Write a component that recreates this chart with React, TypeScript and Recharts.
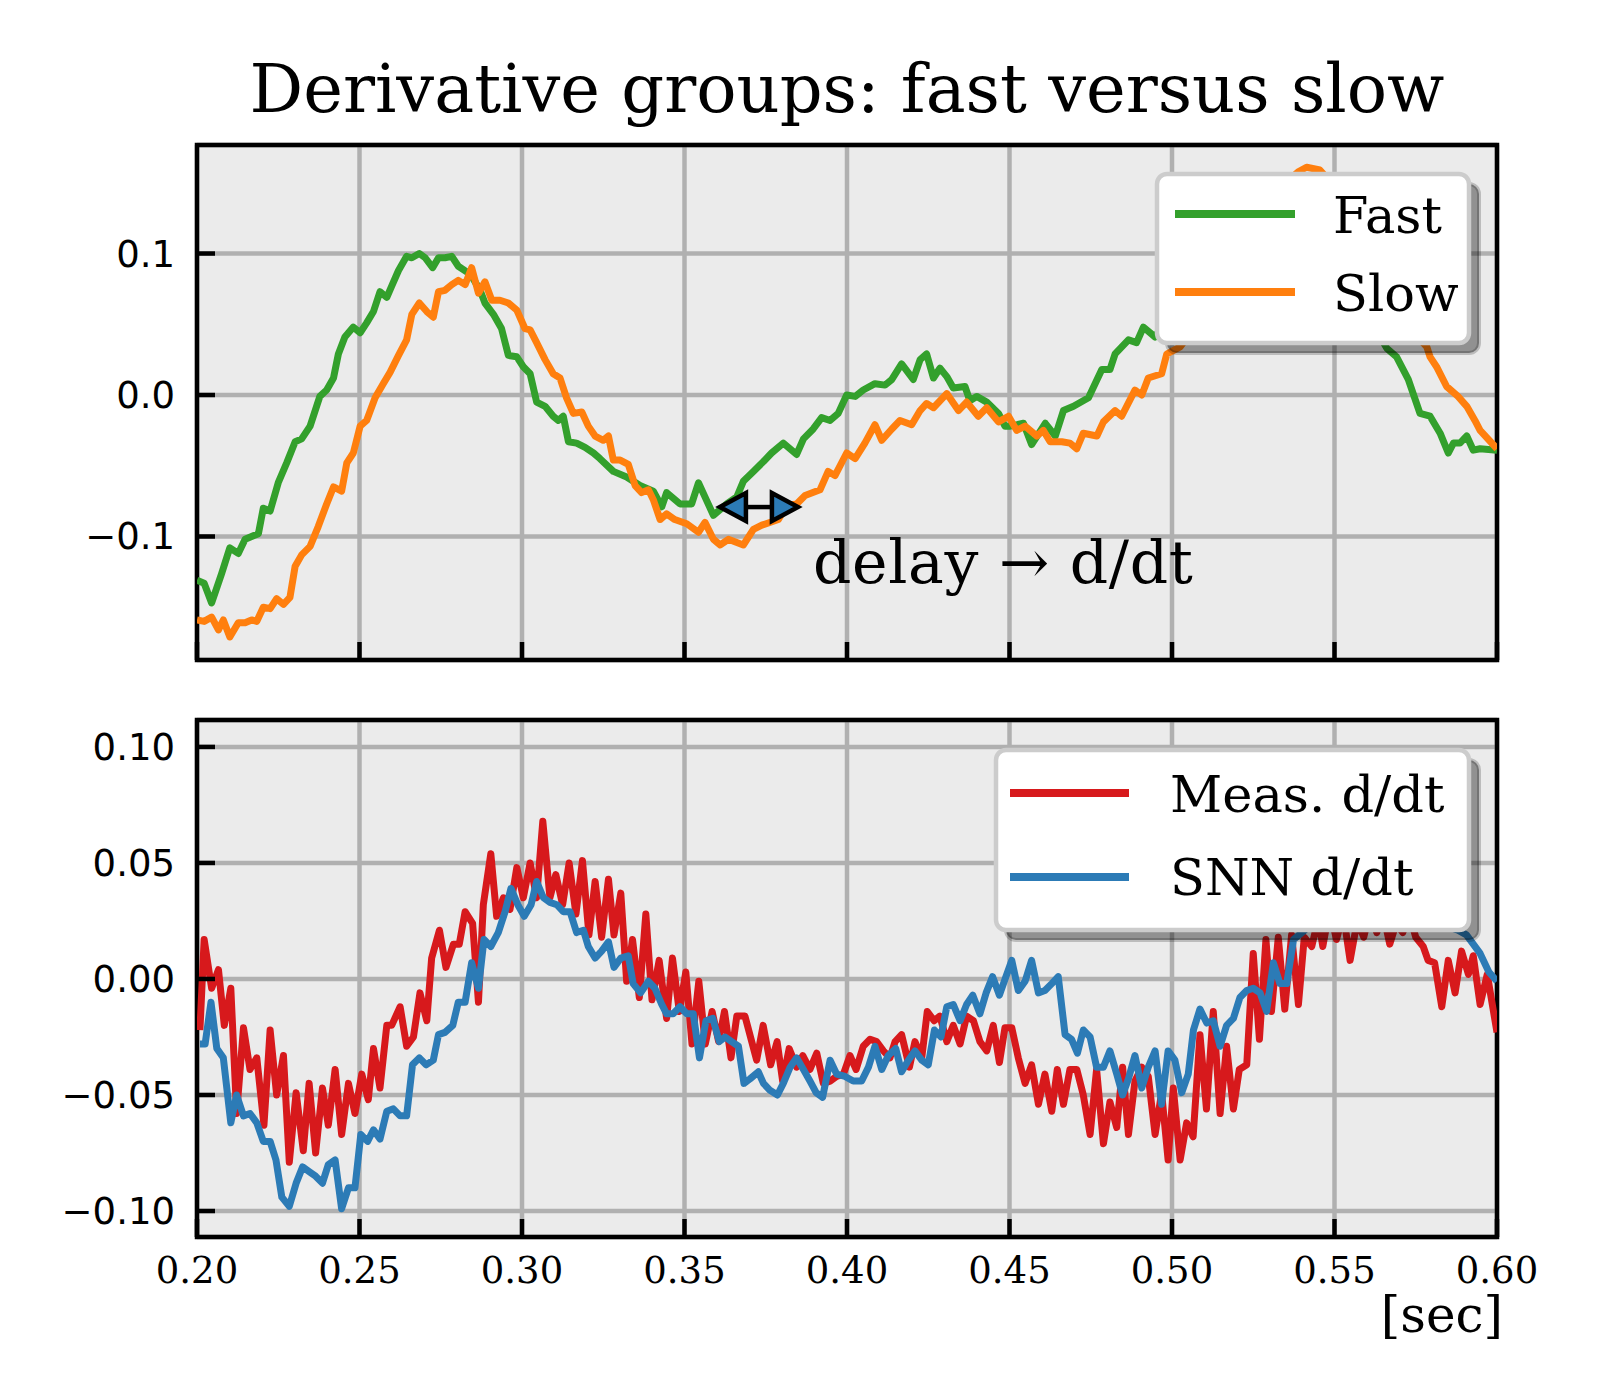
import React from 'react';
import {
  LineChart, Line, XAxis, YAxis, CartesianGrid, ReferenceArea,
  ReferenceLine, ReferenceDot, Legend,
} from 'recharts';

// ---------- text ----------
const TITLE = 'Derivative groups: fast versus slow';
const X_UNIT = '[sec]';
const ANNOTATION = 'delay \u2192 d/dt';

// ---------- axes ----------
const X_TICKS = [0.2, 0.25, 0.3, 0.35, 0.4, 0.45, 0.5, 0.55, 0.6];
const X_DOMAIN = [0.2, 0.6];
const TOP_Y_TICKS = [-0.1, 0, 0.1];
const TOP_Y_DOMAIN = [-0.1873, 0.1767];
const BOT_Y_TICKS = [-0.1, -0.05, 0, 0.05, 0.1];
const BOT_Y_DOMAIN = [-0.1112, 0.1116];

// ---------- annotation ----------
const ARROW_T = [0.3609, 0.3849];
const ARROW_V = -0.0792;
const ANNOT_T = 0.3895;
const ANNOT_V = -0.1329;

// ---------- series (time [s], value) ----------
const FAST: [number, number][] = [
  [0.2, -0.131], [0.2022, -0.133], [0.2045, -0.147], [0.2076, -0.126], [0.2101, -0.108], [0.2127, -0.112],
  [0.2148, -0.102], [0.2168, -0.1], [0.2189, -0.098], [0.2204, -0.08], [0.2225, -0.082], [0.225, -0.062],
  [0.2276, -0.048], [0.2302, -0.033], [0.2322, -0.031], [0.2348, -0.022], [0.2378, -0.001], [0.2399, 0.0035],
  [0.242, 0.012], [0.2435, 0.029], [0.2455, 0.041], [0.2481, 0.048], [0.2502, 0.044], [0.2522, 0.051],
  [0.2543, 0.059], [0.2563, 0.073], [0.2584, 0.069], [0.2599, 0.077], [0.262, 0.088], [0.2645, 0.098],
  [0.2661, 0.097], [0.2684, 0.1], [0.2702, 0.097], [0.2725, 0.09], [0.2743, 0.097], [0.2763, 0.097],
  [0.2784, 0.098], [0.2804, 0.091], [0.283, 0.087], [0.2845, 0.084], [0.2871, 0.074], [0.2886, 0.065],
  [0.2912, 0.057], [0.2937, 0.047], [0.2958, 0.028], [0.2984, 0.027], [0.3004, 0.02], [0.3025, 0.015],
  [0.3045, -0.005], [0.3071, -0.008], [0.3096, -0.015], [0.3112, -0.018], [0.3127, -0.015], [0.3143, -0.033],
  [0.3168, -0.034], [0.3194, -0.037], [0.322, -0.041], [0.324, -0.045], [0.3281, -0.054], [0.3322, -0.058],
  [0.3363, -0.064], [0.3404, -0.068], [0.343, -0.079], [0.3445, -0.069], [0.3486, -0.077], [0.3522, -0.077],
  [0.3543, -0.062], [0.3563, -0.072], [0.3589, -0.085], [0.363, -0.077], [0.3661, -0.072], [0.3681, -0.061],
  [0.3712, -0.054], [0.3743, -0.047], [0.3768, -0.041], [0.3804, -0.034], [0.3845, -0.042], [0.3866, -0.031],
  [0.3896, -0.024], [0.3922, -0.016], [0.3948, -0.018], [0.3973, -0.013], [0.3999, 0], [0.4025, -0.001],
  [0.405, 0.0035], [0.4086, 0.008], [0.4117, 0.007], [0.4138, 0.011], [0.4168, 0.022], [0.4204, 0.011],
  [0.4225, 0.025], [0.4245, 0.029], [0.4266, 0.012], [0.4286, 0.019], [0.4307, 0.013], [0.4327, 0.005],
  [0.4363, 0.006], [0.4378, -0.004], [0.4399, -0.001], [0.443, -0.005], [0.4466, -0.013], [0.4486, -0.022],
  [0.4502, -0.022], [0.4543, -0.02], [0.4568, -0.035], [0.461, -0.02], [0.4641, -0.029], [0.4666, -0.011],
  [0.4697, -0.008], [0.4743, -0.002], [0.4784, 0.018], [0.4809, 0.018], [0.4825, 0.029], [0.4866, 0.039],
  [0.4891, 0.037], [0.4912, 0.048], [0.4948, 0.041], [0.498, 0.052], [0.503, 0.07], [0.508, 0.088],
  [0.513, 0.105], [0.518, 0.12], [0.523, 0.134], [0.528, 0.143], [0.532, 0.148], [0.536, 0.145],
  [0.54, 0.135], [0.545, 0.118], [0.55, 0.1], [0.555, 0.078], [0.56, 0.058], [0.563, 0.045],
  [0.5661, 0.033], [0.5691, 0.027], [0.5727, 0.011], [0.5763, -0.013], [0.5794, -0.015], [0.5825, -0.027],
  [0.585, -0.041], [0.5866, -0.034], [0.5886, -0.034], [0.5907, -0.029], [0.5927, -0.039], [0.5948, -0.038],
  [0.6, -0.039],
];

const SLOW: [number, number][] = [
  [0.2, -0.159], [0.2022, -0.16], [0.2045, -0.157], [0.2066, -0.166], [0.2081, -0.159], [0.2101, -0.171],
  [0.2127, -0.161], [0.2148, -0.161], [0.2168, -0.159], [0.2184, -0.16], [0.2204, -0.15], [0.2225, -0.151],
  [0.2245, -0.144], [0.2266, -0.148], [0.2286, -0.143], [0.2302, -0.121], [0.2322, -0.113], [0.2348, -0.107],
  [0.2373, -0.093], [0.2399, -0.077], [0.242, -0.065], [0.2445, -0.068], [0.2461, -0.048], [0.2481, -0.041],
  [0.2502, -0.022], [0.2522, -0.018], [0.2548, -0.002], [0.2573, 0.008], [0.2594, 0.016], [0.262, 0.028],
  [0.2645, 0.039], [0.2661, 0.057], [0.2684, 0.065], [0.2707, 0.059], [0.2727, 0.055], [0.2743, 0.073],
  [0.2763, 0.074], [0.2784, 0.078], [0.2804, 0.081], [0.2825, 0.078], [0.2845, 0.09], [0.2866, 0.072],
  [0.2886, 0.08], [0.2907, 0.067], [0.2932, 0.067], [0.2958, 0.065], [0.2984, 0.06], [0.3009, 0.047],
  [0.3025, 0.046], [0.3045, 0.037], [0.3071, 0.025], [0.3096, 0.015], [0.3117, 0.012], [0.3137, -0.002],
  [0.3158, -0.013], [0.3184, -0.012], [0.3204, -0.022], [0.3225, -0.029], [0.325, -0.032], [0.3266, -0.029],
  [0.3281, -0.046], [0.3302, -0.046], [0.3327, -0.049], [0.3348, -0.064], [0.3368, -0.069], [0.3389, -0.067],
  [0.3404, -0.074], [0.3425, -0.088], [0.3445, -0.084], [0.347, -0.088], [0.3507, -0.091], [0.3543, -0.097],
  [0.3563, -0.09], [0.3589, -0.102], [0.361, -0.106], [0.3635, -0.102], [0.3681, -0.106], [0.3712, -0.095],
  [0.3738, -0.092], [0.3789, -0.088], [0.3815, -0.078], [0.3845, -0.077], [0.3871, -0.071], [0.3917, -0.067],
  [0.3942, -0.054], [0.3963, -0.057], [0.3999, -0.041], [0.4025, -0.045], [0.4055, -0.034], [0.4086, -0.021],
  [0.4107, -0.032], [0.4138, -0.024], [0.4163, -0.018], [0.4199, -0.021], [0.4225, -0.011], [0.4245, -0.006],
  [0.4266, -0.009], [0.4307, 0.001], [0.4343, -0.011], [0.4368, -0.005], [0.4404, -0.015], [0.443, -0.009],
  [0.4466, -0.019], [0.4497, -0.015], [0.4522, -0.025], [0.4548, -0.022], [0.4584, -0.029], [0.4604, -0.025],
  [0.4625, -0.033], [0.4661, -0.033], [0.4686, -0.034], [0.4707, -0.038], [0.4727, -0.027], [0.4769, -0.029],
  [0.4789, -0.019], [0.4825, -0.011], [0.4845, -0.015], [0.4886, 0.0035], [0.4907, 0], [0.4927, 0.012],
  [0.4968, 0.015], [0.4984, 0.029], [0.5025, 0.034], [0.506, 0.045], [0.51, 0.06], [0.515, 0.08],
  [0.52, 0.1], [0.525, 0.118], [0.53, 0.135], [0.535, 0.15], [0.539, 0.158], [0.5414, 0.161],
  [0.5455, 0.159], [0.549, 0.15], [0.553, 0.132], [0.557, 0.112], [0.561, 0.092], [0.565, 0.075],
  [0.57, 0.058], [0.574, 0.045], [0.5784, 0.034], [0.5794, 0.027], [0.5814, 0.02], [0.5845, 0.006],
  [0.588, -0.001], [0.5907, -0.008], [0.5932, -0.018], [0.5948, -0.025], [0.6, -0.038],
];

const MEAS: [number, number][] = [
  [0.2009, -0.022], [0.2022, 0.017], [0.2045, -0.004], [0.2066, 0.004], [0.2084, -0.02], [0.2104, -0.004],
  [0.2122, -0.058], [0.2143, -0.021], [0.2163, -0.039], [0.2184, -0.034], [0.2206, -0.063], [0.2225, -0.022],
  [0.2245, -0.05], [0.2266, -0.033], [0.2284, -0.079], [0.2305, -0.049], [0.2327, -0.074], [0.2345, -0.045],
  [0.2365, -0.075], [0.2386, -0.047], [0.2404, -0.063], [0.2425, -0.039], [0.2445, -0.067], [0.2466, -0.045],
  [0.2486, -0.058], [0.2507, -0.041], [0.2527, -0.052], [0.2543, -0.03], [0.2563, -0.047], [0.2584, -0.02],
  [0.2599, -0.02], [0.2625, -0.012], [0.2645, -0.029], [0.2666, -0.025], [0.2686, -0.006], [0.2707, -0.018],
  [0.2722, 0.009], [0.2746, 0.021], [0.2766, 0.005], [0.2789, 0.015], [0.2807, 0.015], [0.2825, 0.029],
  [0.2848, 0.024], [0.2866, -0.01], [0.2881, 0.032], [0.2904, 0.054], [0.2922, 0.027], [0.2943, 0.035],
  [0.2963, 0.03], [0.2984, 0.048], [0.3004, 0.035], [0.3025, 0.05], [0.3045, 0.035], [0.3064, 0.068],
  [0.3086, 0.035], [0.3104, 0.045], [0.3125, 0.032], [0.3145, 0.05], [0.3166, 0.028], [0.3186, 0.051],
  [0.3206, 0.019], [0.3225, 0.042], [0.3245, 0.018], [0.3266, 0.043], [0.3283, 0.019], [0.3304, 0.037],
  [0.3322, -0.001], [0.334, 0.017], [0.3361, -0.008], [0.3381, 0.028], [0.34, -0.009], [0.3422, 0.008],
  [0.3445, -0.017], [0.3463, 0.009], [0.3484, -0.014], [0.3504, 0.003], [0.3523, -0.028], [0.3544, -0.001],
  [0.3564, -0.028], [0.3585, -0.014], [0.3605, -0.027], [0.3623, -0.014], [0.3643, -0.034], [0.3661, -0.016],
  [0.3686, -0.016], [0.3722, -0.035], [0.3742, -0.02], [0.3765, -0.037], [0.3785, -0.027], [0.3802, -0.044],
  [0.3822, -0.03], [0.3845, -0.038], [0.3864, -0.033], [0.3886, -0.039], [0.3907, -0.032], [0.3927, -0.045],
  [0.3948, -0.044], [0.3968, -0.042], [0.3989, -0.041], [0.4009, -0.033], [0.4028, -0.039], [0.405, -0.029],
  [0.4071, -0.026], [0.4091, -0.027], [0.4112, -0.031], [0.4132, -0.034], [0.4148, -0.027], [0.4168, -0.024],
  [0.4192, -0.038], [0.4209, -0.027], [0.423, -0.034], [0.4247, -0.014], [0.4268, -0.018], [0.4286, -0.016],
  [0.4307, -0.027], [0.4327, -0.02], [0.4348, -0.028], [0.4368, -0.016], [0.4389, -0.018], [0.4409, -0.027],
  [0.443, -0.031], [0.445, -0.02], [0.4469, -0.036], [0.4486, -0.021], [0.4507, -0.021], [0.4527, -0.034],
  [0.4548, -0.045], [0.4568, -0.037], [0.4589, -0.054], [0.4609, -0.041], [0.463, -0.057], [0.4647, -0.039],
  [0.4666, -0.054], [0.4686, -0.039], [0.4707, -0.039], [0.4727, -0.05], [0.4748, -0.067], [0.4768, -0.039],
  [0.4789, -0.071], [0.4809, -0.053], [0.483, -0.064], [0.4848, -0.038], [0.4866, -0.067], [0.4886, -0.044],
  [0.4907, -0.038], [0.4927, -0.042], [0.4948, -0.067], [0.4968, -0.049], [0.4988, -0.078], [0.5004, -0.047],
  [0.5025, -0.078], [0.5045, -0.062], [0.5065, -0.068], [0.5086, -0.024], [0.5106, -0.056], [0.5127, -0.014],
  [0.5148, -0.058], [0.5168, -0.029], [0.5189, -0.056], [0.5207, -0.039], [0.523, -0.037], [0.525, 0.011],
  [0.5269, -0.026], [0.5289, 0.017], [0.5306, -0.014], [0.5327, 0.018], [0.5347, -0.013], [0.5368, 0.019],
  [0.5389, -0.011], [0.5407, 0.018], [0.543, 0.014], [0.545, 0.026], [0.5464, 0.014], [0.5485, 0.03],
  [0.5506, 0.017], [0.5527, 0.028], [0.5548, 0.008], [0.557, 0.025], [0.559, 0.018], [0.561, 0.03],
  [0.563, 0.02], [0.565, 0.028], [0.567, 0.015], [0.569, 0.024], [0.571, 0.02], [0.573, 0.028],
  [0.575, 0.018], [0.5773, 0.014], [0.5788, 0.008], [0.5808, 0.007], [0.583, -0.012], [0.585, 0.008],
  [0.5871, -0.006], [0.5891, 0.012], [0.5912, 0.002], [0.5927, 0.01], [0.5948, -0.011], [0.597, 0.002],
  [0.6, -0.023],
];

const SNN: [number, number][] = [
  [0.2009, -0.028], [0.2025, -0.028], [0.2043, -0.01], [0.2061, -0.03], [0.2081, -0.034], [0.2104, -0.062],
  [0.2122, -0.05], [0.2143, -0.059], [0.2163, -0.058], [0.2184, -0.062], [0.2204, -0.07], [0.2225, -0.07],
  [0.2243, -0.078], [0.2261, -0.094], [0.2284, -0.098], [0.2305, -0.088], [0.2325, -0.081], [0.2345, -0.083],
  [0.2365, -0.085], [0.2386, -0.088], [0.2404, -0.08], [0.2425, -0.078], [0.2445, -0.099], [0.2466, -0.09],
  [0.2486, -0.09], [0.2504, -0.067], [0.2525, -0.07], [0.2543, -0.065], [0.2563, -0.069], [0.2584, -0.057],
  [0.2604, -0.056], [0.2625, -0.059], [0.2645, -0.059], [0.2663, -0.037], [0.2684, -0.034], [0.2705, -0.037],
  [0.2727, -0.035], [0.2743, -0.024], [0.2763, -0.023], [0.2787, -0.02], [0.2804, -0.01], [0.2825, -0.01],
  [0.2845, 0.007], [0.2866, -0.004], [0.2883, 0.017], [0.2904, 0.014], [0.2927, 0.02], [0.2948, 0.029],
  [0.2966, 0.039], [0.2987, 0.032], [0.3007, 0.027], [0.3028, 0.032], [0.3045, 0.042], [0.3066, 0.035],
  [0.3086, 0.033], [0.3107, 0.032], [0.3127, 0.029], [0.3148, 0.029], [0.3168, 0.02], [0.3189, 0.021],
  [0.3204, 0.014], [0.3225, 0.009], [0.3245, 0.012], [0.3266, 0.016], [0.3283, 0.005], [0.3304, 0.009],
  [0.3327, 0.01], [0.3342, -0.002], [0.3365, -0.006], [0.3389, -0.001], [0.3409, -0.004], [0.343, -0.011],
  [0.3445, -0.015], [0.3465, -0.015], [0.3486, -0.012], [0.3507, -0.015], [0.3527, -0.015], [0.3546, -0.034],
  [0.3566, -0.018], [0.3587, -0.017], [0.3607, -0.027], [0.3625, -0.025], [0.3645, -0.027], [0.3666, -0.029],
  [0.3683, -0.045], [0.3702, -0.043], [0.3727, -0.04], [0.3743, -0.045], [0.3763, -0.048], [0.3786, -0.05],
  [0.3804, -0.045], [0.3825, -0.038], [0.3845, -0.034], [0.3866, -0.039], [0.3886, -0.044], [0.3905, -0.049],
  [0.3925, -0.051], [0.3948, -0.035], [0.3968, -0.041], [0.3994, -0.042], [0.4019, -0.044], [0.4045, -0.044],
  [0.4066, -0.038], [0.4086, -0.029], [0.4107, -0.039], [0.4127, -0.033], [0.415, -0.03], [0.4168, -0.04],
  [0.4189, -0.035], [0.4209, -0.031], [0.423, -0.035], [0.425, -0.037], [0.4269, -0.022], [0.4289, -0.025],
  [0.4307, -0.012], [0.4327, -0.011], [0.4348, -0.018], [0.4368, -0.011], [0.4387, -0.007], [0.4409, -0.015],
  [0.4428, -0.006], [0.4448, 0.001], [0.4469, -0.007], [0.4489, 0.001], [0.4507, 0.008], [0.4527, -0.005],
  [0.4548, -0.001], [0.4568, 0.008], [0.4589, -0.006], [0.4609, -0.005], [0.463, -0.002], [0.465, 0.001],
  [0.4671, -0.024], [0.4691, -0.026], [0.4709, -0.032], [0.4727, -0.022], [0.4748, -0.025], [0.4768, -0.038],
  [0.4789, -0.038], [0.4809, -0.031], [0.483, -0.041], [0.4848, -0.05], [0.4866, -0.043], [0.4886, -0.033],
  [0.4907, -0.047], [0.4927, -0.038], [0.4948, -0.031], [0.4968, -0.054], [0.4988, -0.031], [0.5009, -0.035],
  [0.503, -0.049], [0.505, -0.041], [0.5066, -0.022], [0.5086, -0.013], [0.5107, -0.019], [0.5127, -0.018],
  [0.5148, -0.029], [0.5168, -0.02], [0.5189, -0.017], [0.5209, -0.008], [0.523, -0.005], [0.525, -0.004],
  [0.5271, -0.006], [0.5291, -0.014], [0.5312, 0.007], [0.5332, -0.002], [0.5353, -0.002], [0.5374, 0.017],
  [0.54, 0.02], [0.544, 0.025], [0.548, 0.028], [0.552, 0.03], [0.556, 0.028], [0.56, 0.031],
  [0.564, 0.027], [0.568, 0.029], [0.572, 0.026], [0.576, 0.028], [0.58, 0.025], [0.584, 0.023],
  [0.588, 0.021], [0.5906, 0.019], [0.5948, 0.011], [0.5975, 0.003], [0.6, -0.001],
];

// ---------- styles ----------
const C_FAST = '#33a02c';
const C_SLOW = '#ff7f0e';
const C_MEAS = '#d7191c';
const C_SNN = '#2c7bb6';
const SERIF = 'DejaVu Serif';
const SANS = 'DejaVu Sans';
const LW = 7;
const GRID_W = 4.5;
const TICK_W = 4.5;
const TICK_LEN = 18;

const toRows = (pts: [number, number][]) => pts.map(([t, v]) => ({ t, v }));

const fmt = (v: number, d: number) => {
  const s = Math.abs(v) < 1e-9 ? (0).toFixed(d) : v.toFixed(d);
  return s.replace('-', '\u2212');
};

const XTick = (props: any) => {
  const { x, y, payload, showLabel } = props;
  return (
    <g>
      <line x1={x} x2={x} y1={y} y2={y - TICK_LEN} stroke="#000" strokeWidth={TICK_W} />
      {showLabel ? (
        <text x={x} y={y + 46} textAnchor="middle" fontFamily={SERIF} fontSize={37} fill="#000">
          {Number(payload.value).toFixed(2)}
        </text>
      ) : null}
    </g>
  );
};

const YTick = (props: any) => {
  const { x, y, payload, digits } = props;
  return (
    <g>
      <line x1={x} x2={x + TICK_LEN} y1={y} y2={y} stroke="#000" strokeWidth={TICK_W} />
      <text x={x - 22} y={y + 13} textAnchor="end" fontFamily={SANS} fontSize={37} fill="#000">
        {fmt(Number(payload.value), digits)}
      </text>
    </g>
  );
};

const ArrowShape = (props: any) => {
  const { x1, y1, x2 } = props;
  const y = y1;
  const hl = 26;
  const hw = 14;
  return (
    <g>
      <line x1={x1 + hl} x2={x2 - hl} y1={y} y2={y} stroke="#000" strokeWidth={4.5} />
      <polygon
        points={`${x1},${y} ${x1 + hl},${y - hw} ${x1 + hl},${y + hw}`}
        fill={C_SNN} stroke="#000" strokeWidth={4.5} strokeLinejoin="miter"
      />
      <polygon
        points={`${x2},${y} ${x2 - hl},${y - hw} ${x2 - hl},${y + hw}`}
        fill={C_SNN} stroke="#000" strokeWidth={4.5} strokeLinejoin="miter"
      />
    </g>
  );
};

const AnnotText = (props: any) => {
  const { cx, cy } = props;
  return (
    <text x={cx} y={cy} fontFamily={SERIF} fontSize={60} fill="#000" textLength={380} lengthAdjust="spacing">
      {ANNOTATION}
    </text>
  );
};

type LegendGeom = {
  w: number; h: number; lx1: number; lx2: number; rows: number[]; tx: number; base: number[];
};

const LegendBox = ({ payload, g }: { payload: any[]; g: LegendGeom }) => (
  <svg width={g.w + 16} height={g.h + 16} style={{ overflow: 'visible', display: 'block' }}>
    <rect x={12} y={12} width={g.w - 4} height={g.h - 4} rx={10} fill="#000" fillOpacity={0.38}
      stroke="#000" strokeOpacity={0.2} strokeWidth={4} />
    <rect x={2} y={2} width={g.w - 4} height={g.h - 4} rx={10} fill="#fff" stroke="#cccccc" strokeWidth={4.5} />
    {(payload || []).map((e: any, i: number) => (
      <g key={i}>
        <line x1={g.lx1} x2={g.lx2} y1={g.rows[i]} y2={g.rows[i]} stroke={e.color} strokeWidth={8} />
        <text x={g.tx} y={g.base[i]} fontFamily={SERIF} fontSize={51} fill="#000">{e.value}</text>
      </g>
    ))}
  </svg>
);

const TOP_LEGEND: LegendGeom = { w: 316, h: 173, lx1: 20, lx2: 140, rows: [42, 120], tx: 178, base: [61, 139] };
const BOT_LEGEND: LegendGeom = { w: 477, h: 184, lx1: 16, lx2: 135, rows: [45, 129], tx: 176, base: [64, 147] };

export default function App() {
  const fast = toRows(FAST);
  const slow = toRows(SLOW);
  const meas = toRows(MEAS);
  const snn = toRows(SNN);

  return (
    <div style={{ position: 'absolute', left: 0, top: 0, width: 1600, height: 1400, background: '#fff', overflow: 'hidden' }}>
      {/* top panel */}
      <div style={{ position: 'absolute', left: 0, top: 0 }}>
        <LineChart width={1600} height={700} margin={{ top: 145, right: 103, bottom: 0, left: 0 }}>
          <CartesianGrid fill="#ebebeb" stroke="#b0b0b0" strokeWidth={GRID_W} />
          <XAxis dataKey="t" type="number" domain={X_DOMAIN} ticks={X_TICKS} interval={0} allowDataOverflow
            height={40} tickSize={0} tickMargin={0} tickLine={false} axisLine={false}
            tick={(p: any) => <XTick {...p} showLabel={false} />} />
          <YAxis type="number" domain={TOP_Y_DOMAIN} ticks={TOP_Y_TICKS} interval={0} allowDataOverflow
            width={197} tickSize={0} tickMargin={0} tickLine={false} axisLine={false}
            tick={(p: any) => <YTick {...p} digits={1} />} />
          <Line data={fast} dataKey="v" name="Fast" stroke={C_FAST} strokeWidth={LW} dot={false}
            type="linear" strokeLinejoin="round" isAnimationActive={false} />
          <Line data={slow} dataKey="v" name="Slow" stroke={C_SLOW} strokeWidth={LW} dot={false}
            type="linear" strokeLinejoin="round" isAnimationActive={false} />
          <ReferenceLine segment={[{ x: ARROW_T[0], y: ARROW_V }, { x: ARROW_T[1], y: ARROW_V }]}
            shape={ArrowShape} ifOverflow="visible" />
          <ReferenceDot x={ANNOT_T} y={ANNOT_V} r={0} shape={AnnotText} ifOverflow="visible" />
          <ReferenceArea x1={X_DOMAIN[0]} x2={X_DOMAIN[1]} y1={TOP_Y_DOMAIN[0]} y2={TOP_Y_DOMAIN[1]}
            fill="none" stroke="#000" strokeWidth={4.5} ifOverflow="visible" />
          <Legend layout="horizontal" verticalAlign="middle" align="center"
            wrapperStyle={{ left: 1155, top: 172, width: 340, height: 200 }}
            content={(p: any) => <LegendBox payload={p.payload} g={TOP_LEGEND} />} />
        </LineChart>
      </div>

      {/* bottom panel */}
      <div style={{ position: 'absolute', left: 0, top: 700 }}>
        <LineChart width={1600} height={700} margin={{ top: 20, right: 103, bottom: 63, left: 0 }}>
          <CartesianGrid fill="#ebebeb" stroke="#b0b0b0" strokeWidth={GRID_W} />
          <XAxis dataKey="t" type="number" domain={X_DOMAIN} ticks={X_TICKS} interval={0} allowDataOverflow
            height={100} tickSize={0} tickMargin={0} tickLine={false} axisLine={false}
            tick={(p: any) => <XTick {...p} showLabel />} />
          <YAxis type="number" domain={BOT_Y_DOMAIN} ticks={BOT_Y_TICKS} interval={0} allowDataOverflow
            width={197} tickSize={0} tickMargin={0} tickLine={false} axisLine={false}
            tick={(p: any) => <YTick {...p} digits={2} />} />
          <Line data={meas} dataKey="v" name="Meas.  d/dt" stroke={C_MEAS} strokeWidth={LW} dot={false}
            type="linear" strokeLinejoin="round" isAnimationActive={false} />
          <Line data={snn} dataKey="v" name="SNN d/dt" stroke={C_SNN} strokeWidth={LW} dot={false}
            type="linear" strokeLinejoin="round" isAnimationActive={false} />
          <ReferenceArea x1={X_DOMAIN[0]} x2={X_DOMAIN[1]} y1={BOT_Y_DOMAIN[0]} y2={BOT_Y_DOMAIN[1]}
            fill="none" stroke="#000" strokeWidth={4.5} ifOverflow="visible" />
          <Legend layout="horizontal" verticalAlign="middle" align="center"
            wrapperStyle={{ left: 994, top: 48, width: 500, height: 210 }}
            content={(p: any) => <LegendBox payload={p.payload} g={BOT_LEGEND} />} />
        </LineChart>
      </div>

      {/* title and unit label */}
      <svg width={1600} height={1400} style={{ position: 'absolute', left: 0, top: 0, pointerEvents: 'none' }}>
        <text x={847} y={112} textAnchor="middle" fontFamily={SERIF} fontSize={67} fill="#000">{TITLE}</text>
        <text x={1503} y={1332} textAnchor="end" fontFamily={SERIF} fontSize={50} fill="#000">{X_UNIT}</text>
      </svg>
    </div>
  );
}
